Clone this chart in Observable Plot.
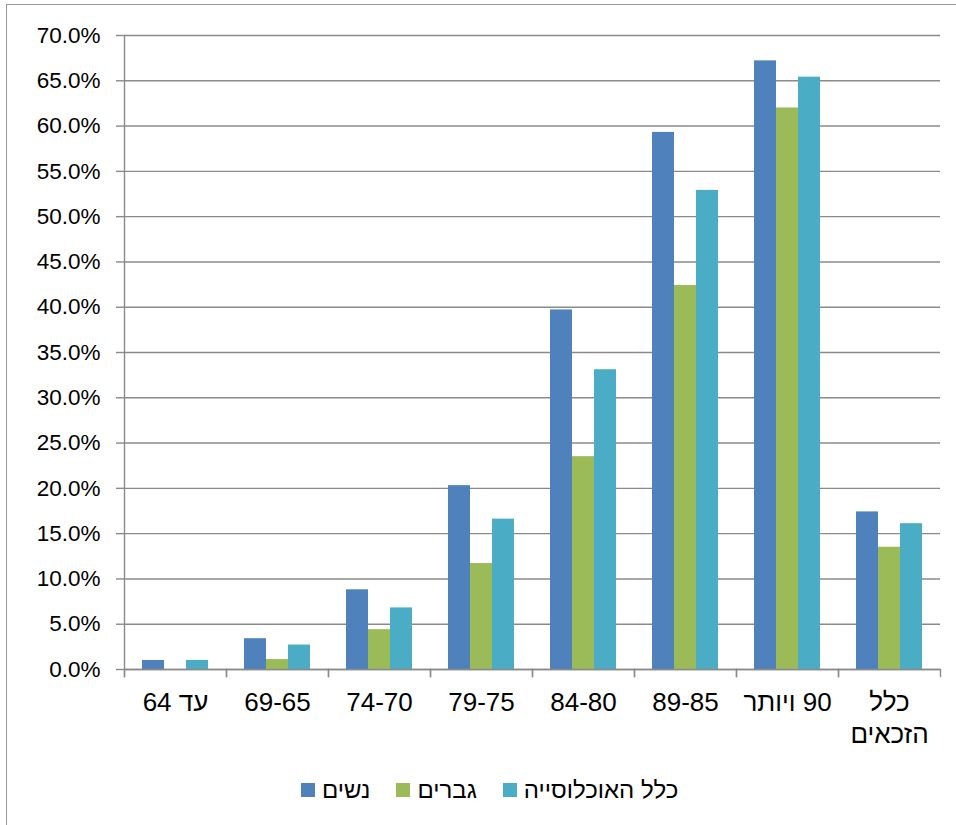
<!DOCTYPE html>
<html>
<head>
<meta charset="utf-8">
<script src="https://cdn.jsdelivr.net/npm/d3@7"></script>
<script src="https://cdn.jsdelivr.net/npm/@observablehq/plot@0.6"></script>
<style>
  html, body { margin: 0; padding: 0; background: #fff; }
  #wrap { position: relative; width: 956px; height: 825px; overflow: hidden; font-family: "Liberation Sans", Arial, sans-serif; }
  #border { position: absolute; left: 6px; top: 4px; width: 1000px; height: 900px; border: 1.5px solid #9a9a9a; box-sizing: border-box; }
  #chart { position: absolute; left: 0; top: 0; }
  #legend { position: absolute; left: 301px; top: 776px; display: flex; align-items: center; font-size: 24px; color: #000; direction: ltr; }
  .item { display: flex; align-items: center; margin-right: 26px; }
  .sw { width: 14px; height: 14px; margin-right: 7px; }
</style>
</head>
<body>
<div id="wrap">
  <div id="border"></div>
  <div id="chart"></div>
  <div id="legend"></div>
</div>
<script>
const categories = ["עד 64", "69-65", "74-70", "79-75", "84-80", "89-85", "90 ויותר", "כלל\nהזכאים"];
const seriesNames = ["נשים", "גברים", "כלל האוכלוסייה"];
const colors = ["#4F81BD", "#9BBB59", "#4BACC6"];
const women = [1.0, 3.4, 8.8, 20.3, 39.7, 59.3, 67.2, 17.4];
const men = [null, 1.1, 4.4, 11.7, 23.5, 42.4, 62.0, 13.5];
const population = [1.0, 2.7, 6.8, 16.6, 33.1, 52.9, 65.4, 16.1];
const yTicks = [0, 5, 10, 15, 20, 25, 30, 35, 40, 45, 50, 55, 60, 65, 70];

const seriesValues = [women, men, population];
const data = [];
categories.forEach((c, i) => {
  seriesNames.forEach((s, j) => {
    const v = seriesValues[j][i];
    if (v != null) data.push({cat: c, series: s, value: v});
  });
});

// right-to-left embedding for each line of the Hebrew category labels
const rtl = d => d.split("\n").map(l => "\u202B" + l + "\u202C").join("\n");

const grey = "#8a8a8a";
const chart = Plot.plot({
  width: 956,
  height: 770,
  marginLeft: 124,
  marginRight: 16,
  marginTop: 35,
  marginBottom: 101,
  style: {fontFamily: '"Liberation Sans", Arial, sans-serif', color: "#000", background: "transparent"},
  fx: {domain: categories, padding: 0, label: null},
  x: {domain: seriesNames, paddingInner: 0, paddingOuter: 0.75, align: 0.5, axis: null},
  y: {domain: [0, 70], label: null},
  color: {domain: seriesNames, range: colors},
  marks: [
    Plot.gridY(yTicks, {stroke: grey, strokeOpacity: 1, strokeWidth: 1.4}),
    Plot.barY(data, {fx: "cat", x: "series", y: "value", fill: "series"}),
    Plot.ruleY([0], {stroke: grey, strokeWidth: 1.4}),
    Plot.frame({anchor: "left", facetAnchor: "left", stroke: grey, strokeWidth: 1.4, insetBottom: -7}),
    Plot.frame({anchor: "left", stroke: grey, strokeWidth: 1.4, insetTop: 634, insetBottom: -7}),
    Plot.frame({anchor: "right", stroke: grey, strokeWidth: 1.4, insetTop: 634, insetBottom: -7}),
    Plot.axisY(yTicks, {tickFormat: d => d.toFixed(1) + "%", tickSize: 8, tickPadding: 16, fontSize: 22.5, stroke: grey, strokeWidth: 1.4, label: null, color: "#000"}),
    Plot.axisFx({anchor: "bottom", tickSize: 0, tickPadding: 19, fontSize: 26, lineHeight: 1.23, label: null, tickFormat: rtl})
  ]
});
document.getElementById("chart").appendChild(chart);

const legend = document.getElementById("legend");
seriesNames.forEach((s, i) => {
  const item = document.createElement("div");
  item.className = "item";
  const sw = document.createElement("div");
  sw.className = "sw";
  sw.style.background = colors[i];
  const t = document.createElement("span");
  t.textContent = s;
  item.appendChild(sw);
  item.appendChild(t);
  legend.appendChild(item);
});
</script>
</body>
</html>
